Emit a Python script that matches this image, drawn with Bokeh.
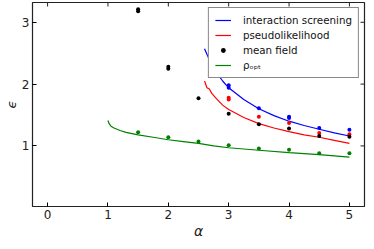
import math
from bokeh.plotting import figure
from bokeh.models import Range1d, FixedTicker, Legend, LegendItem
from bokeh.embed import file_html
from bokeh.resources import INLINE

# curves
is_x = [2.6, 2.7, 2.8, 2.9, 3.0, 3.25, 3.5, 3.75, 4.0, 4.25, 4.5, 4.75, 5.0]
is_y = [2.57, 2.35, 2.18, 2.05, 1.94, 1.75, 1.60, 1.49, 1.40, 1.33, 1.27, 1.21, 1.16]

pl_x = [2.6, 2.64, 2.68, 2.72, 2.8, 2.9, 3.0, 3.25, 3.5, 3.75, 4.0, 4.25, 4.5, 4.75, 5.0]
pl_y = [2.05, 1.94, 1.92, 1.85, 1.76, 1.66, 1.59, 1.46, 1.36, 1.29, 1.23, 1.18, 1.14, 1.09, 1.04]

opt_x = [1.0, 1.02, 1.05, 1.1, 1.2, 1.3, 1.5, 1.75, 2.0, 2.25, 2.5, 2.75, 3.0, 3.5, 4.0, 4.5, 5.0]
opt_y = [1.41, 1.36, 1.32, 1.29, 1.25, 1.22, 1.18, 1.14, 1.10, 1.07, 1.04, 1.00, 0.97, 0.93, 0.89, 0.86, 0.82]

# measured points
is_px = [3.0, 3.0, 3.5, 4.0, 4.0, 4.5, 5.0]
is_py = [1.98, 1.94, 1.61, 1.47, 1.45, 1.29, 1.26]

pl_px = [3.0, 3.0, 3.5, 4.0, 4.5, 5.0]
pl_py = [1.78, 1.75, 1.47, 1.37, 1.21, 1.19]

mf_px = [1.5, 1.5, 2.0, 2.0, 2.5, 3.0, 3.5, 4.0, 4.5, 5.0]
mf_py = [3.18, 3.21, 2.25, 2.28, 1.77, 1.52, 1.35, 1.28, 1.16, 1.15]

opt_px = [1.5, 2.0, 2.5, 3.0, 3.5, 4.0, 4.5, 5.0]
opt_py = [1.22, 1.14, 1.07, 1.01, 0.96, 0.94, 0.88, 0.88]

x_ticks = [0, 1, 2, 3, 4, 5]
y_ticks = [1, 2, 3]

BLUE, RED, GREEN, BLACK = "#0000ff", "#ff0000", "#008000", "#000000"
FONT = "DejaVu Sans"

p = figure(width=366, height=241, output_backend="svg", toolbar_location=None,
           x_range=Range1d(-0.25, 5.25), y_range=Range1d(0.02, 3.32),
           min_border_left=0, min_border_right=2, min_border_top=2, min_border_bottom=0)
p.background_fill_color = "white"
p.border_fill_color = "white"
p.outline_line_color = "#222222"
p.outline_line_width = 1.2
p.grid.visible = False

for ax in (p.xaxis[0], p.yaxis[0]):
    ax.major_tick_in = 4
    ax.major_tick_out = 0
    ax.minor_tick_in = 0
    ax.minor_tick_out = 0
    ax.minor_tick_line_color = None
    ax.axis_line_color = None
    ax.major_label_text_font = FONT
    ax.major_label_text_font_size = "12px"
    ax.major_label_text_color = "#222222"
    ax.major_label_standoff = 3
    ax.axis_label_text_font = FONT
    ax.axis_label_text_font_size = "14px"
    ax.axis_label_text_font_style = "italic"
    ax.axis_label_text_color = "#222222"
    ax.axis_label_standoff = 1

p.xaxis[0].ticker = FixedTicker(ticks=x_ticks)
p.yaxis[0].ticker = FixedTicker(ticks=y_ticks)
p.xaxis[0].axis_label = "α"
p.yaxis[0].axis_label = "ϵ"
p.yaxis[0].axis_label_standoff = 0
p.yaxis[0].axis_label_text_font_size = "13px"

# inward tick marks on the top and right edges of the frame
p.scatter(x_ticks, [p.y_range.end] * len(x_ticks), marker="dash", angle=math.pi / 2,
          size=8, line_color="#222222", line_width=1)
p.scatter([p.x_range.end] * len(y_ticks), y_ticks, marker="dash",
          size=8, line_color="#222222", line_width=1)

r_is = p.line(is_x, is_y, line_color=BLUE, line_width=1.2)
r_pl = p.line(pl_x, pl_y, line_color=RED, line_width=1.2)
r_opt = p.line(opt_x, opt_y, line_color=GREEN, line_width=1.2)

p.scatter(opt_px, opt_py, size=4, fill_color=GREEN, line_color=None)
p.scatter(is_px, is_py, size=4, fill_color=BLUE, line_color=None)
p.scatter(pl_px, pl_py, size=4, fill_color=RED, line_color=None)
r_mf = p.scatter(mf_px, mf_py, size=4, fill_color=BLACK, line_color=None)

legend = Legend(items=[
    LegendItem(label="interaction screening", renderers=[r_is]),
    LegendItem(label="pseudolikelihood", renderers=[r_pl]),
    LegendItem(label="mean field", renderers=[r_mf]),
    LegendItem(label="ρₒₚₜ", renderers=[r_opt]),
], location="top_right")
legend.margin = 5
legend.padding = 6
legend.spacing = 3
legend.label_height = 12
legend.glyph_height = 12
legend.glyph_width = 16
legend.label_standoff = 12
legend.label_text_font = FONT
legend.label_text_font_size = "10.3px"
legend.label_text_color = "#111111"
legend.border_line_color = "#111111"
legend.border_line_width = 1.2
legend.background_fill_color = "white"
legend.background_fill_alpha = 1.0
p.add_layout(legend, "center")

open("out.html", "w").write(file_html(p, INLINE))
